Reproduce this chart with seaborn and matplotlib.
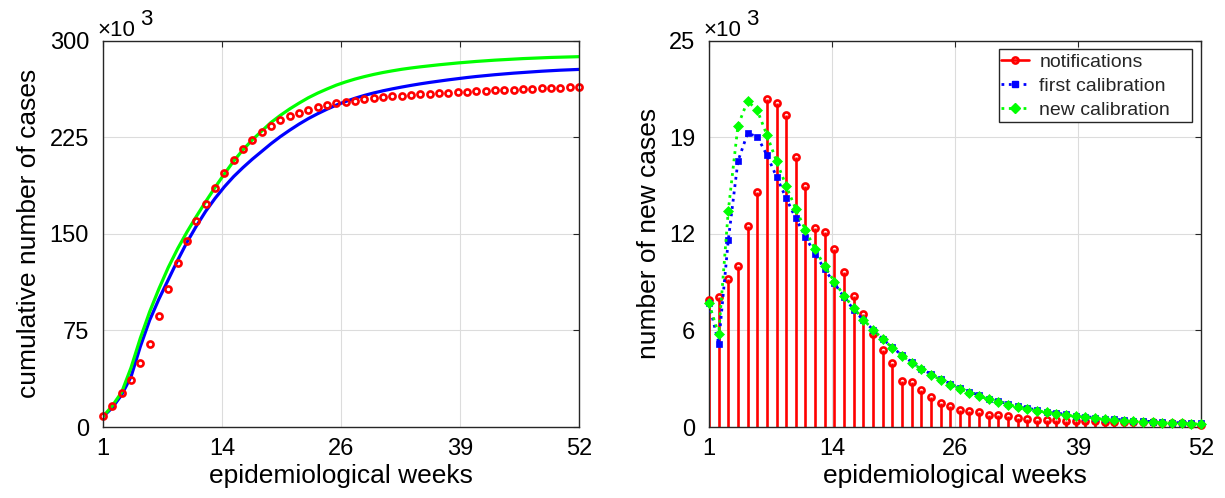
import numpy as np
import pandas as pd
import matplotlib
matplotlib.use("Agg")
import matplotlib.pyplot as plt
import seaborn as sns
from matplotlib.lines import Line2D
from matplotlib.patches import Rectangle

# ---------------- data (values in thousands) ----------------
weeks = list(range(1, 53))

notifications = [8.2, 8.4, 9.6, 10.4, 13.0, 15.2, 21.2, 21.0, 20.2, 17.5,
                 15.6, 12.9, 12.6, 11.5, 10.0, 8.5, 7.3, 6.0, 5.0, 4.15,
                 3.0, 2.9, 2.4, 1.95, 1.55, 1.35, 1.12, 1.02, 0.95, 0.8,
                 0.75, 0.71, 0.6, 0.5, 0.47, 0.45, 0.43, 0.4, 0.39, 0.38,
                 0.37, 0.35, 0.34, 0.33, 0.32, 0.31, 0.3, 0.28, 0.26, 0.24,
                 0.21, 0.1]

first_calibration = [8.0, 5.4, 12.1, 17.2, 19.0, 18.8, 17.6, 16.2, 14.8, 13.5,
                     12.3, 11.2, 10.2, 9.3, 8.4, 7.6, 6.9, 6.3, 5.7, 5.15,
                     4.65, 4.2, 3.78, 3.42, 3.1, 2.8, 2.52, 2.28, 2.05, 1.84,
                     1.66, 1.5, 1.35, 1.22, 1.1, 1.0, 0.9, 0.82, 0.74, 0.67,
                     0.61, 0.55, 0.5, 0.46, 0.42, 0.38, 0.35, 0.32, 0.29, 0.27,
                     0.25, 0.23]

new_calibration = [8.0, 6.0, 14.0, 19.5, 21.1, 20.5, 18.9, 17.2, 15.6, 14.1,
                   12.75, 11.5, 10.4, 9.4, 8.5, 7.7, 6.95, 6.3, 5.7, 5.12,
                   4.62, 4.17, 3.74, 3.38, 3.06, 2.75, 2.47, 2.23, 2.0, 1.79,
                   1.61, 1.45, 1.3, 1.17, 1.05, 0.95, 0.86, 0.77, 0.69, 0.62,
                   0.56, 0.5, 0.45, 0.41, 0.37, 0.34, 0.31, 0.28, 0.25, 0.23,
                   0.21, 0.19]

cum_first_calibration = [8, 15, 25, 39, 62.5, 83, 99.5, 114.5, 129.5, 143.5,
                         156, 167.5, 177.5, 186.5, 194.5, 201.5, 208, 214, 220, 225.5,
                         230.5, 235.2, 239.5, 243.3, 246.8, 250, 252.8, 255.3, 257.5, 259.4,
                         261.1, 262.6, 264.0, 265.3, 266.5, 267.6, 268.6, 269.6, 270.5, 271.4,
                         272.2, 272.9, 273.6, 274.2, 274.8, 275.3, 275.8, 276.3, 276.7, 277.1,
                         277.4, 277.7]

cum_new_calibration = [8, 16.5, 27, 46, 69, 89.5, 107.5, 124, 138.5, 151.5,
                       163.5, 175, 186, 196.5, 206.5, 215.3, 223, 229.8, 236.5, 242,
                       247, 251.5, 255.7, 259.3, 262.5, 265.5, 268, 270.2, 272.1, 273.8,
                       275.3, 276.6, 277.8, 278.8, 279.7, 280.5, 281.3, 282.0, 282.7, 283.3,
                       283.9, 284.4, 284.9, 285.3, 285.7, 286.1, 286.4, 286.7, 287.0, 287.2,
                       287.4, 287.6]

x_tick_labels = ["1", "14", "26", "39", "52"]
left_y_tick_labels = ["0", "75", "150", "225", "300"]
right_y_tick_labels = ["0", "6", "12", "19", "25"]
legend_labels = ["notifications", "first calibration", "new calibration"]

# ---------------- style ----------------
RED, BLUE, GREEN = "#ff0000", "#0000ff", "#00ff00"
sns.set_theme(style="whitegrid", rc={
    "axes.edgecolor": "#262626",
    "axes.linewidth": 1.0,
    "grid.color": "#dcdcdc",
    "grid.linewidth": 0.8,
    "xtick.direction": "in",
    "ytick.direction": "in",
})
plt.rcParams["font.family"] = ["Liberation Sans", "DejaVu Sans"]

TICK_FS = 17
LABEL_FS = 19
fig = plt.figure(figsize=(12.25, 4.98), dpi=100)
ax1 = fig.add_axes([103 / 1225, 71 / 498, 476 / 1225, 386.3 / 498])
ax2 = fig.add_axes([709 / 1225, 71 / 498, 492 / 1225, 386.3 / 498])

df = pd.DataFrame({
    "week": weeks,
    "notif": notifications,
    "cum_notif": np.cumsum(notifications),
    "first": first_calibration,
    "new": new_calibration,
    "cum_first": cum_first_calibration,
    "cum_new": cum_new_calibration,
})

# ---------------- left panel ----------------
sns.lineplot(data=df, x="week", y="cum_first", ax=ax1, color=BLUE, lw=2.3)
sns.lineplot(data=df, x="week", y="cum_new", ax=ax1, color=GREEN, lw=2.3)
sns.lineplot(data=df, x="week", y="cum_notif", ax=ax1, color=RED,
             linestyle="none", marker="o", markersize=4.4,
             markerfacecolor="none", markeredgecolor=RED,
             markeredgewidth=1.9, clip_on=False)

# ---------------- right panel ----------------
ax2.vlines(df["week"], 0, df["notif"], color=RED, lw=1.9, zorder=2)
sns.lineplot(data=df, x="week", y="notif", ax=ax2, color=RED,
             linestyle="none", marker="o", markersize=4.4,
             markerfacecolor="none", markeredgecolor=RED,
             markeredgewidth=1.9, clip_on=False, zorder=3)
sns.lineplot(data=df, x="week", y="first", ax=ax2, color=BLUE, lw=2.0,
             linestyle=":", marker="s", markersize=4.6,
             markerfacecolor=BLUE, markeredgecolor=BLUE, markeredgewidth=0.5,
             clip_on=False, zorder=4)
sns.lineplot(data=df, x="week", y="new", ax=ax2, color=GREEN, lw=2.0,
             linestyle=":", marker="D", markersize=5.6,
             markerfacecolor=GREEN, markeredgecolor=GREEN, markeredgewidth=0.5,
             clip_on=False, zorder=5)

handles = [
    Line2D([], [], color=RED, lw=1.9, marker="o", markersize=4.4,
           markerfacecolor="none", markeredgecolor=RED, markeredgewidth=1.9),
    Line2D([], [], color=BLUE, lw=2.0, linestyle=":", marker="s", markersize=4.6,
           markerfacecolor=BLUE, markeredgecolor=BLUE),
    Line2D([], [], color=GREEN, lw=2.0, linestyle=":", marker="D", markersize=5.6,
           markerfacecolor=GREEN, markeredgecolor=GREEN),
]
# legend box (MATLAB-like: handles hug the left edge, wide right margin)
bx0, bx1 = (999 - 709) / 492, (1192 - 709) / 492
by0, by1 = (427 - 122) / 386.3, (427 - 49) / 386.3
ax2.add_patch(Rectangle((bx0, by0), bx1 - bx0, by1 - by0, transform=ax2.transAxes,
                        facecolor="white", edgecolor="#262626", lw=1.0, zorder=9))
leg = ax2.legend(handles, legend_labels, loc="upper left",
                 bbox_to_anchor=(bx0, (427 - 51) / 386.3), fontsize=14,
                 frameon=False, handlelength=1.4, handletextpad=0.55,
                 borderaxespad=0.0, labelspacing=0.33, borderpad=0.12)
leg.set_zorder(10)

# ---------------- axes cosmetics ----------------
xt = np.linspace(1, 52, 5)
for ax, ymax, ylabels, ylab in [
    (ax1, 300, left_y_tick_labels, "cumulative number of cases"),
    (ax2, 25, right_y_tick_labels, "number of new cases"),
]:
    ax.set_xlim(1, 52)
    ax.set_ylim(0, ymax)
    ax.set_xticks(xt)
    ax.set_xticklabels(x_tick_labels)
    ax.set_yticks(np.linspace(0, ymax, 5))
    ax.set_yticklabels(ylabels)
    ax.tick_params(axis="both", labelsize=TICK_FS, length=4, width=0.8,
                   color="#262626", labelcolor="black", top=True, right=True)
    ax.tick_params(axis="x", pad=8)
    ax.tick_params(axis="y", pad=10)
    ax.set_xlabel("epidemiological weeks", fontsize=LABEL_FS, color="black", labelpad=3)
    ax.set_ylabel(ylab, fontsize=LABEL_FS, color="black", labelpad=6)
    ax.grid(True, zorder=0)
    ax.set_axisbelow(True)
    for s in ax.spines.values():
        s.set_visible(True)
        s.set_color("#262626")
    ax.annotate("\u00d710", xy=(0, 1), xycoords="axes fraction",
                xytext=(-6, 5), textcoords="offset pixels",
                ha="left", va="baseline", fontsize=16, color="black")
    ax.annotate("3", xy=(0, 1), xycoords="axes fraction",
                xytext=(37, 16), textcoords="offset pixels",
                ha="left", va="baseline", fontsize=16, color="black")

fig.savefig("out.png", dpi=100, facecolor="white")
